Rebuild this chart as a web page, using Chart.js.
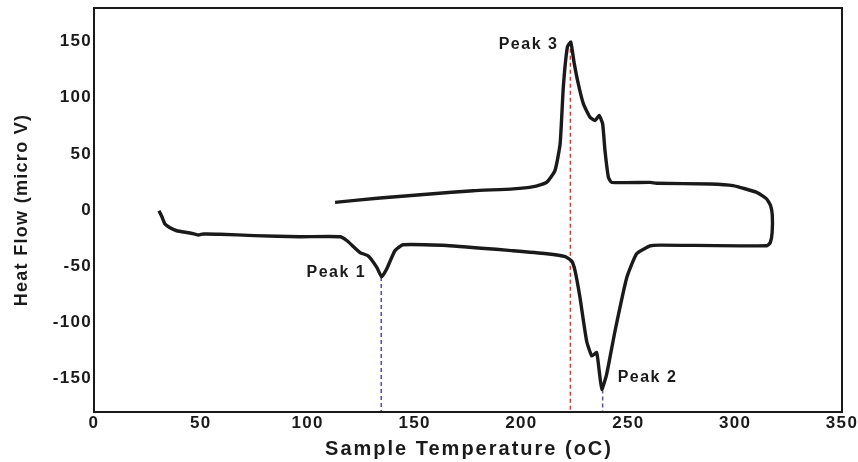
<!DOCTYPE html>
<html>
<head>
<meta charset="utf-8">
<script src="https://cdn.jsdelivr.net/npm/chart.js@4.4.1/dist/chart.umd.min.js"></script>
<style>
  html, body { margin: 0; padding: 0; background: #fff; }
  #wrap { width: 858px; height: 462px; }
</style>
</head>
<body>
<div id="wrap"><canvas id="dsc"></canvas></div>
<script>
// === Data ===
// one closed path: heating branch left->right, then cooling branch right->left
const tempC = [
  30.4, 31.8, 33.2, 35.6, 38.7, 44.9, 48.8, 51.1, 59, 75, 96.4, 115.1,
  118.4, 124.5, 128.2, 132.4, 134.6, 137, 140.8, 144.6, 165, 196.1, 211.9,
  220.5, 223.5, 225.1, 227.4, 230.5, 232.9, 235.2, 236.4, 237.6, 239.9,
  243.8, 249.3, 253.9, 260.2, 264.8, 314.8, 316.4, 317.3, 317.4, 316.6,
  314.7, 310.1, 299, 288.2, 263.3, 260.2, 242.2, 240.7, 239.1, 238, 236.4,
  234.4, 232.1, 229, 226.6, 224.6, 223.1, 221.5, 219.6, 218.1, 215.7,
  211.8, 205.6, 196.2, 177.5, 157.2, 133.8, 112.8
];
const heatFlow = [
  -0.6, -6, -12.5, -15.8, -18.5, -20.5, -22.3, -21.4, -21.6, -22.8, -23.8, -23.8,
  -27.4, -37.9, -40.8, -51.3, -59.6, -52.4, -36.3, -31, -31.6, -36.3, -39,
  -41.5, -45.5, -54.2, -78, -116.7, -130, -127.1, -143.5, -159.8, -146.2,
  -107.8, -60.2, -39, -31.9, -31.3, -31.9, -29.2, -20.3, -5.1, 3.8,
  9.9, 15.7, 21.7, 23.2, 23.8, 24.6, 24.6, 29.1, 52.9, 76.8, 84.2,
  79.7, 82.7, 94.6, 112.5, 131.8, 149.6, 145.2, 109.5, 58.9, 35.1,
  24.6, 20.8, 18.8, 17.2, 14.3, 10.7, 6.8
];

const peakNames = ['Peak 1', 'Peak 2', 'Peak 3'];
const peakTemp = [134.4, 238, 222.9];
const peakFlow = [-59.6, -160, 150];
const peakColor = ['#5a4f9e', '#5a4f9e', '#e8342e'];

const xTicks = [0, 50, 100, 150, 200, 250, 300, 350];
const yTicks = [-150, -100, -50, 0, 50, 100, 150];
const X_MIN = 0, X_MAX = 350;
const Y_MIN = -180, Y_MAX = 180;
const X_TITLE = 'Sample Temperature (oC)';
const Y_TITLE = 'Heat Flow (micro V)';

// label placement relative to its peak (pixels)
const peakLabelPos = [
  { dx: -15, dy: -4, align: 'right' },
  { dx: 15, dy: -12, align: 'left' },
  { dx: -12, dy: 3, align: 'right' }
];

const INK = '#1a1a1a';
const FONT = 'Liberation Sans, Arial, sans-serif';

const curve = tempC.map((t, i) => ({ x: t, y: heatFlow[i] }));

const dropLines = peakTemp.map((t, i) => ({
  data: [{ x: t, y: peakFlow[i] }, { x: t, y: Y_MIN }],
  borderColor: peakColor[i],
  borderWidth: 1.5,
  borderDash: [4, 3],
  pointRadius: 0,
  showLine: true,
  order: 2
}));

const spacing = {
  id: 'spacing',
  beforeDraw(chart) { chart.ctx.letterSpacing = '1.3px'; }
};

const frame = {
  id: 'frame',
  afterDraw(chart) {
    const { ctx, chartArea: a } = chart;
    ctx.save();
    ctx.strokeStyle = INK;
    ctx.lineWidth = 2;
    ctx.strokeRect(a.left, a.top, a.right - a.left, a.bottom - a.top);

    // x title, drawn here for its wider letter spacing
    ctx.font = `bold 20px ${FONT}`;
    ctx.letterSpacing = '2px';
    ctx.fillStyle = INK;
    ctx.textAlign = 'center';
    ctx.textBaseline = 'middle';
    ctx.fillText(X_TITLE, (a.left + a.right) / 2 + 1, 449);
    ctx.restore();
  }
};

const peakLabels = {
  id: 'peakLabels',
  afterDatasetsDraw(chart) {
    const { ctx, scales: { x, y } } = chart;
    ctx.save();
    ctx.font = `bold 16px ${FONT}`;
    ctx.letterSpacing = '1.5px';
    ctx.fillStyle = INK;
    ctx.textBaseline = 'middle';
    peakNames.forEach((name, i) => {
      const p = peakLabelPos[i];
      ctx.textAlign = p.align;
      ctx.fillText(name, x.getPixelForValue(peakTemp[i]) + p.dx, y.getPixelForValue(peakFlow[i]) + p.dy);
    });
    ctx.restore();
  }
};

new Chart(document.getElementById('dsc'), {
  type: 'scatter',
  data: {
    datasets: [
      {
        data: curve,
        showLine: true,
        borderColor: INK,
        borderWidth: 3.4,
        pointRadius: 0,
        tension: 0.15,
        order: 1
      },
      ...dropLines
    ]
  },
  options: {
    responsive: true,
    maintainAspectRatio: false,
    animation: false,
    events: [],
    layout: { padding: { left: 0, right: 16, top: 8, bottom: 0 } },
    plugins: { legend: { display: false }, tooltip: { enabled: false } },
    scales: {
      x: {
        type: 'linear',
        min: X_MIN,
        max: X_MAX,
        afterBuildTicks: s => { s.ticks = xTicks.map(v => ({ value: v })); },
        afterFit: s => { s.height = 50; s.paddingLeft = 0; s.paddingRight = 0; },
        grid: { display: false, drawTicks: false },
        border: { display: false },
        ticks: {
          color: INK,
          padding: 1,
          maxRotation: 0,
          font: { family: FONT, size: 17, weight: 'bold' }
        },
        title: { display: false }
      },
      y: {
        min: Y_MIN,
        max: Y_MAX,
        afterBuildTicks: s => { s.ticks = yTicks.map(v => ({ value: v })); },
        afterFit: s => { s.width = 94; s.paddingTop = 0; s.paddingBottom = 0; },
        grid: { display: false, drawTicks: false },
        border: { display: false },
        ticks: {
          color: INK,
          padding: 2,
          font: { family: FONT, size: 17, weight: 'bold' }
        },
        title: {
          display: true,
          text: Y_TITLE,
          color: INK,
          padding: { top: 11, bottom: 0 },
          font: { family: FONT, size: 18, weight: 'bold' }
        }
      }
    }
  },
  plugins: [spacing, frame, peakLabels]
});
</script>
</body>
</html>
